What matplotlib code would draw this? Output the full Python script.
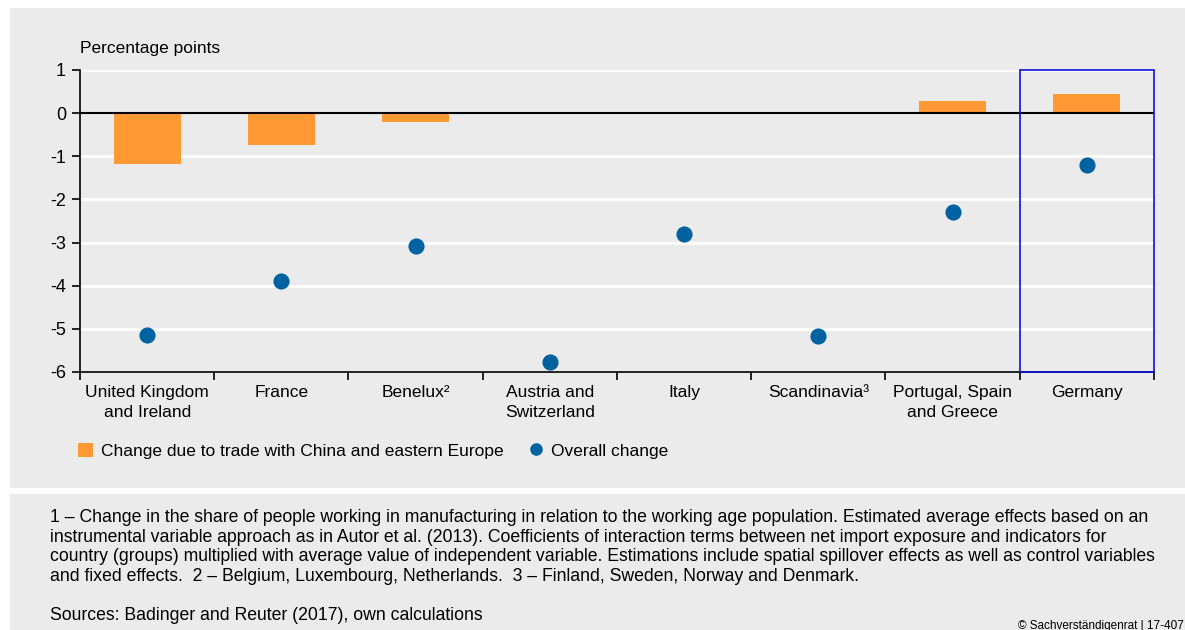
import matplotlib
matplotlib.use("Agg")
import matplotlib.pyplot as plt
from matplotlib.patches import Rectangle, Patch
from matplotlib.lines import Line2D

plt.rcParams['font.family'] = ['Liberation Sans', 'DejaVu Sans']

regions = ["United Kingdom\nand Ireland", "France", "Benelux\u00b2", "Austria and\nSwitzerland",
           "Italy", "Scandinavia\u00b3", "Portugal, Spain\nand Greece", "Germany"]
trade_change = [-1.18, -0.74, -0.21, -0.01, 0.02, -0.02, 0.29, 0.44]
overall_change = [-5.15, -3.90, -3.07, -5.77, -2.81, -5.16, -2.28, -1.21]
y_ticks = [1, 0, -1, -2, -3, -4, -5, -6]

ORANGE = "#FF9933"
BLUE = "#0062A1"
PANEL = "#EBEBEB"

W, H = 1185, 630
fig = plt.figure(figsize=(W / 100, H / 100), dpi=100)
fig.patch.set_facecolor("white")

# grey background panels for chart and notes
fig.add_artist(Rectangle((10 / W, 1 - 488 / H), 1 - 10 / W, 480 / H,
                         transform=fig.transFigure, facecolor=PANEL, edgecolor="none", zorder=0))
fig.add_artist(Rectangle((10 / W, 0), 1 - 10 / W, 136 / H,
                         transform=fig.transFigure, facecolor=PANEL, edgecolor="none", zorder=0))

ax = fig.add_axes([80 / W, 1 - 372 / H, (1154 - 80) / W, (372 - 70) / H])
ax.set_facecolor(PANEL)

x = list(range(len(regions)))
for yv in y_ticks:
    if yv != 0 and yv != -6:
        ax.axhline(yv, color="white", lw=2, zorder=1)
ax.bar(x, trade_change, width=0.5, color=ORANGE, zorder=2)
ax.axhline(0, color="black", lw=1.5, zorder=3)
ax.scatter(x, overall_change, s=135, color=BLUE, zorder=4, linewidths=0)

ax.set_xlim(-0.5, len(regions) - 0.5)
ax.set_ylim(-6, 1)
ax.set_yticks(y_ticks)
ax.set_yticklabels([str(v) for v in y_ticks], fontsize=13)
ax.tick_params(axis="y", length=6, width=1.2, pad=4)

ax.set_xticks([i - 0.5 for i in range(len(regions) + 1)], minor=False)
ax.set_xticklabels([])
ax.tick_params(axis="x", length=6, width=1.2, direction="out")
for i, lab in enumerate(regions):
    ax.text(i, -6.3, lab, ha="center", va="top", fontsize=12.5, linespacing=1.4)

for side in ["top", "right"]:
    ax.spines[side].set_visible(False)
ax.spines["left"].set_linewidth(1.2)
ax.spines["bottom"].set_linewidth(1.2)

# highlight Germany
ax.add_patch(Rectangle((6.5, -6), 1, 7, fill=False, edgecolor="#1010DD", lw=1.2,
                       clip_on=False, zorder=5))

fig.text(80 / W, 1 - 48 / H, "Percentage points", fontsize=12.5, va="center", ha="left")

handles = [Patch(facecolor=ORANGE, edgecolor="none"),
           Line2D([], [], marker="o", color=BLUE, lw=0, markersize=8)]
fig.legend(handles, ["Change due to trade with China and eastern Europe", "Overall change"],
           loc="center left", bbox_to_anchor=(62 / W, 1 - 451 / H), ncol=2, frameon=False,
           fontsize=12.5, handlelength=0.9, handleheight=0.9, columnspacing=1.4,
           handletextpad=0.45)

notes = ("1 \u2013 Change in the share of people working in manufacturing in relation to the working age population. Estimated average effects based on an\n"
         "instrumental variable approach as in Autor et al. (2013). Coefficients of interaction terms between net import exposure and indicators for\n"
         "country (groups) multiplied with average value of independent variable. Estimations include spatial spillover effects as well as control variables\n"
         "and fixed effects.  2 \u2013 Belgium, Luxembourg, Netherlands.  3 \u2013 Finland, Sweden, Norway and Denmark.")
fig.text(50 / W, 1 - 509 / H, notes, fontsize=12.7, va="top", ha="left", linespacing=1.2)
fig.text(50 / W, 1 - 616 / H, "Sources: Badinger and Reuter (2017), own calculations",
         fontsize=12.7, va="center", ha="left")
fig.text(1 - 1 / W, 1 - 626 / H, "\u00a9 Sachverst\u00e4ndigenrat | 17-407", fontsize=8.5,
         va="center", ha="right")

fig.savefig("out.png", dpi=100)
